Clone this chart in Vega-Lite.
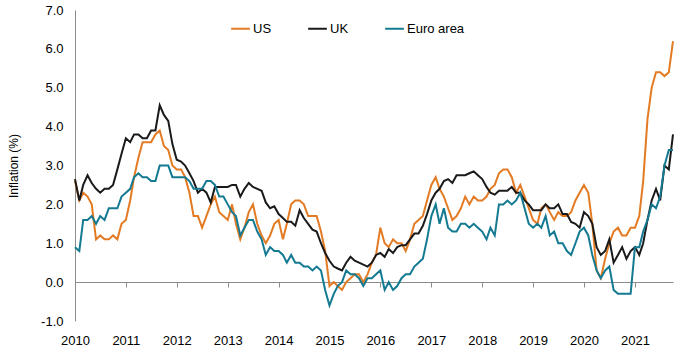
{
"$schema": "https://vega.github.io/schema/vega-lite/v6.json",
"width": 598, "height": 311,
"autosize": {"type": "none"},
"padding": {"left": 75, "top": 10, "right": 7, "bottom": 27},
"background": "white",
"config": {"font": "Liberation Sans", "view": {"stroke": null}},
"datasets": {"cpi": [
{"date":"2010/01/01","US":2.6,"UK":2.65,"Euro area":0.9},
{"date":"2010/02/01","US":2.1,"UK":2.1,"Euro area":0.8},
{"date":"2010/03/01","US":2.3,"UK":2.5,"Euro area":1.6},
{"date":"2010/04/01","US":2.2,"UK":2.75,"Euro area":1.6},
{"date":"2010/05/01","US":2.0,"UK":2.55,"Euro area":1.7},
{"date":"2010/06/01","US":1.1,"UK":2.4,"Euro area":1.5},
{"date":"2010/07/01","US":1.2,"UK":2.3,"Euro area":1.7},
{"date":"2010/08/01","US":1.1,"UK":2.4,"Euro area":1.6},
{"date":"2010/09/01","US":1.1,"UK":2.4,"Euro area":1.9},
{"date":"2010/10/01","US":1.2,"UK":2.5,"Euro area":1.9},
{"date":"2010/11/01","US":1.1,"UK":2.9,"Euro area":1.9},
{"date":"2010/12/01","US":1.5,"UK":3.3,"Euro area":2.2},
{"date":"2011/01/01","US":1.6,"UK":3.7,"Euro area":2.3},
{"date":"2011/02/01","US":2.1,"UK":3.6,"Euro area":2.4},
{"date":"2011/03/01","US":2.7,"UK":3.8,"Euro area":2.7},
{"date":"2011/04/01","US":3.2,"UK":3.8,"Euro area":2.8},
{"date":"2011/05/01","US":3.6,"UK":3.7,"Euro area":2.7},
{"date":"2011/06/01","US":3.6,"UK":3.7,"Euro area":2.7},
{"date":"2011/07/01","US":3.6,"UK":3.9,"Euro area":2.6},
{"date":"2011/08/01","US":3.8,"UK":3.9,"Euro area":2.6},
{"date":"2011/09/01","US":3.9,"UK":4.55,"Euro area":3.0},
{"date":"2011/10/01","US":3.5,"UK":4.3,"Euro area":3.0},
{"date":"2011/11/01","US":3.4,"UK":4.15,"Euro area":3.0},
{"date":"2011/12/01","US":3.0,"UK":3.55,"Euro area":2.7},
{"date":"2012/01/01","US":2.9,"UK":3.15,"Euro area":2.7},
{"date":"2012/02/01","US":2.9,"UK":3.1,"Euro area":2.7},
{"date":"2012/03/01","US":2.7,"UK":3.0,"Euro area":2.7},
{"date":"2012/04/01","US":2.3,"UK":2.8,"Euro area":2.6},
{"date":"2012/05/01","US":1.7,"UK":2.6,"Euro area":2.4},
{"date":"2012/06/01","US":1.7,"UK":2.3,"Euro area":2.4},
{"date":"2012/07/01","US":1.4,"UK":2.4,"Euro area":2.4},
{"date":"2012/08/01","US":1.7,"UK":2.3,"Euro area":2.6},
{"date":"2012/09/01","US":2.0,"UK":2.05,"Euro area":2.6},
{"date":"2012/10/01","US":2.2,"UK":2.45,"Euro area":2.5},
{"date":"2012/11/01","US":1.8,"UK":2.45,"Euro area":2.2},
{"date":"2012/12/01","US":1.7,"UK":2.45,"Euro area":2.2},
{"date":"2013/01/01","US":1.6,"UK":2.45,"Euro area":2.0},
{"date":"2013/02/01","US":2.0,"UK":2.5,"Euro area":1.8},
{"date":"2013/03/01","US":1.5,"UK":2.5,"Euro area":1.7},
{"date":"2013/04/01","US":1.1,"UK":2.2,"Euro area":1.2},
{"date":"2013/05/01","US":1.4,"UK":2.4,"Euro area":1.4},
{"date":"2013/06/01","US":1.8,"UK":2.55,"Euro area":1.6},
{"date":"2013/07/01","US":2.0,"UK":2.45,"Euro area":1.6},
{"date":"2013/08/01","US":1.5,"UK":2.4,"Euro area":1.3},
{"date":"2013/09/01","US":1.2,"UK":2.35,"Euro area":1.1},
{"date":"2013/10/01","US":1.0,"UK":2.05,"Euro area":0.7},
{"date":"2013/11/01","US":1.2,"UK":1.9,"Euro area":0.9},
{"date":"2013/12/01","US":1.5,"UK":1.95,"Euro area":0.8},
{"date":"2014/01/01","US":1.6,"UK":1.75,"Euro area":0.8},
{"date":"2014/02/01","US":1.1,"UK":1.65,"Euro area":0.7},
{"date":"2014/03/01","US":1.5,"UK":1.55,"Euro area":0.5},
{"date":"2014/04/01","US":2.0,"UK":1.55,"Euro area":0.7},
{"date":"2014/05/01","US":2.1,"UK":1.45,"Euro area":0.5},
{"date":"2014/06/01","US":2.1,"UK":1.85,"Euro area":0.5},
{"date":"2014/07/01","US":2.0,"UK":1.65,"Euro area":0.4},
{"date":"2014/08/01","US":1.7,"UK":1.5,"Euro area":0.4},
{"date":"2014/09/01","US":1.7,"UK":1.35,"Euro area":0.3},
{"date":"2014/10/01","US":1.7,"UK":1.3,"Euro area":0.4},
{"date":"2014/11/01","US":1.3,"UK":1.0,"Euro area":0.3},
{"date":"2014/12/01","US":0.8,"UK":0.75,"Euro area":-0.2},
{"date":"2015/01/01","US":-0.1,"UK":0.55,"Euro area":-0.6},
{"date":"2015/02/01","US":0.0,"UK":0.4,"Euro area":-0.3},
{"date":"2015/03/01","US":-0.1,"UK":0.35,"Euro area":-0.1},
{"date":"2015/04/01","US":-0.2,"UK":0.3,"Euro area":0.0},
{"date":"2015/05/01","US":0.0,"UK":0.5,"Euro area":0.3},
{"date":"2015/06/01","US":0.1,"UK":0.65,"Euro area":0.2},
{"date":"2015/07/01","US":0.2,"UK":0.55,"Euro area":0.2},
{"date":"2015/08/01","US":0.2,"UK":0.5,"Euro area":0.1},
{"date":"2015/09/01","US":0.0,"UK":0.45,"Euro area":-0.1},
{"date":"2015/10/01","US":0.2,"UK":0.4,"Euro area":0.1},
{"date":"2015/11/01","US":0.5,"UK":0.5,"Euro area":0.1},
{"date":"2015/12/01","US":0.7,"UK":0.7,"Euro area":0.2},
{"date":"2016/01/01","US":1.4,"UK":0.75,"Euro area":0.3},
{"date":"2016/02/01","US":1.0,"UK":0.65,"Euro area":-0.2},
{"date":"2016/03/01","US":0.9,"UK":0.85,"Euro area":0.0},
{"date":"2016/04/01","US":1.1,"UK":0.75,"Euro area":-0.2},
{"date":"2016/05/01","US":1.0,"UK":0.9,"Euro area":-0.1},
{"date":"2016/06/01","US":1.0,"UK":0.95,"Euro area":0.1},
{"date":"2016/07/01","US":0.8,"UK":0.95,"Euro area":0.2},
{"date":"2016/08/01","US":1.1,"UK":1.1,"Euro area":0.2},
{"date":"2016/09/01","US":1.5,"UK":1.25,"Euro area":0.4},
{"date":"2016/10/01","US":1.6,"UK":1.25,"Euro area":0.5},
{"date":"2016/11/01","US":1.7,"UK":1.45,"Euro area":0.6},
{"date":"2016/12/01","US":2.1,"UK":1.75,"Euro area":1.1},
{"date":"2017/01/01","US":2.5,"UK":2.1,"Euro area":1.7},
{"date":"2017/02/01","US":2.7,"UK":2.3,"Euro area":2.0},
{"date":"2017/03/01","US":2.4,"UK":2.4,"Euro area":1.5},
{"date":"2017/04/01","US":2.2,"UK":2.6,"Euro area":1.9},
{"date":"2017/05/01","US":1.9,"UK":2.65,"Euro area":1.4},
{"date":"2017/06/01","US":1.6,"UK":2.55,"Euro area":1.3},
{"date":"2017/07/01","US":1.7,"UK":2.75,"Euro area":1.3},
{"date":"2017/08/01","US":1.9,"UK":2.75,"Euro area":1.5},
{"date":"2017/09/01","US":2.2,"UK":2.75,"Euro area":1.5},
{"date":"2017/10/01","US":2.0,"UK":2.8,"Euro area":1.4},
{"date":"2017/11/01","US":2.2,"UK":2.85,"Euro area":1.5},
{"date":"2017/12/01","US":2.1,"UK":2.75,"Euro area":1.4},
{"date":"2018/01/01","US":2.1,"UK":2.65,"Euro area":1.3},
{"date":"2018/02/01","US":2.2,"UK":2.45,"Euro area":1.1},
{"date":"2018/03/01","US":2.4,"UK":2.3,"Euro area":1.4},
{"date":"2018/04/01","US":2.5,"UK":2.25,"Euro area":1.2},
{"date":"2018/05/01","US":2.8,"UK":2.35,"Euro area":2.0},
{"date":"2018/06/01","US":2.9,"UK":2.35,"Euro area":2.0},
{"date":"2018/07/01","US":2.9,"UK":2.35,"Euro area":2.1},
{"date":"2018/08/01","US":2.7,"UK":2.45,"Euro area":2.0},
{"date":"2018/09/01","US":2.3,"UK":2.3,"Euro area":2.1},
{"date":"2018/10/01","US":2.5,"UK":2.3,"Euro area":2.3},
{"date":"2018/11/01","US":2.2,"UK":2.1,"Euro area":1.9},
{"date":"2018/12/01","US":1.9,"UK":2.0,"Euro area":1.5},
{"date":"2019/01/01","US":1.6,"UK":1.85,"Euro area":1.4},
{"date":"2019/02/01","US":1.5,"UK":1.85,"Euro area":1.5},
{"date":"2019/03/01","US":1.9,"UK":1.85,"Euro area":1.4},
{"date":"2019/04/01","US":2.0,"UK":2.0,"Euro area":1.7},
{"date":"2019/05/01","US":1.8,"UK":1.9,"Euro area":1.2},
{"date":"2019/06/01","US":1.6,"UK":1.9,"Euro area":1.3},
{"date":"2019/07/01","US":1.8,"UK":2.0,"Euro area":1.0},
{"date":"2019/08/01","US":1.7,"UK":1.75,"Euro area":1.0},
{"date":"2019/09/01","US":1.7,"UK":1.75,"Euro area":0.8},
{"date":"2019/10/01","US":1.8,"UK":1.55,"Euro area":0.7},
{"date":"2019/11/01","US":2.1,"UK":1.5,"Euro area":1.0},
{"date":"2019/12/01","US":2.3,"UK":1.4,"Euro area":1.3},
{"date":"2020/01/01","US":2.5,"UK":1.8,"Euro area":1.4},
{"date":"2020/02/01","US":2.3,"UK":1.7,"Euro area":1.2},
{"date":"2020/03/01","US":1.5,"UK":1.5,"Euro area":0.7},
{"date":"2020/04/01","US":0.3,"UK":0.9,"Euro area":0.3},
{"date":"2020/05/01","US":0.1,"UK":0.7,"Euro area":0.1},
{"date":"2020/06/01","US":0.6,"UK":0.8,"Euro area":0.3},
{"date":"2020/07/01","US":1.0,"UK":1.1,"Euro area":0.4},
{"date":"2020/08/01","US":1.3,"UK":0.5,"Euro area":-0.2},
{"date":"2020/09/01","US":1.4,"UK":0.7,"Euro area":-0.3},
{"date":"2020/10/01","US":1.2,"UK":0.9,"Euro area":-0.3},
{"date":"2020/11/01","US":1.2,"UK":0.6,"Euro area":-0.3},
{"date":"2020/12/01","US":1.4,"UK":0.8,"Euro area":-0.3},
{"date":"2021/01/01","US":1.4,"UK":0.9,"Euro area":0.9},
{"date":"2021/02/01","US":1.7,"UK":0.7,"Euro area":0.9},
{"date":"2021/03/01","US":2.6,"UK":1.0,"Euro area":1.3},
{"date":"2021/04/01","US":4.2,"UK":1.6,"Euro area":1.6},
{"date":"2021/05/01","US":5.0,"UK":2.1,"Euro area":2.0},
{"date":"2021/06/01","US":5.4,"UK":2.4,"Euro area":1.9},
{"date":"2021/07/01","US":5.4,"UK":2.1,"Euro area":2.2},
{"date":"2021/08/01","US":5.3,"UK":3.0,"Euro area":3.0},
{"date":"2021/09/01","US":5.4,"UK":2.9,"Euro area":3.4},
{"date":"2021/10/01","US":6.2,"UK":3.8,"Euro area":3.4}
]},
"data": {"name": "cpi"},
"transform": [{"fold": ["US", "UK", "Euro area"], "as": ["series", "value"]}],
"mark": {"type": "line", "strokeWidth": 2},
"encoding": {
  "x": {"field": "date", "type": "temporal",
    "scale": {"domain": [{"year": 2010, "month": 1, "date": 1}, {"year": 2021, "month": 10, "date": 1}]},
    "axis": {"title": null, "format": "%Y", "tickCount": {"interval": "year", "step": 1}, "offset": -39,
      "domainColor": "#8c8c8c", "tickColor": "#8c8c8c", "tickSize": 5, "labelPadding": 47,
      "labelFontSize": 13, "labelColor": "#000000", "grid": false, "labelFlush": false}},
  "y": {"field": "value", "type": "quantitative",
    "scale": {"domain": [-1, 7], "nice": false, "zero": false},
    "axis": {"title": "Inflation (%)", "values": [-1, 0, 1, 2, 3, 4, 5, 6, 7],
      "labelExpr": "datum.value < 0 ? '-' + format(-datum.value, '.1f') : format(datum.value, '.1f')", "grid": false,
      "ticks": false, "labelPadding": 12, "domainColor": "#8c8c8c", "labelFontSize": 13, "labelColor": "#000000",
      "titleFontWeight": "normal", "titleFontSize": 12, "titleColor": "#000000", "titlePadding": 20}},
  "color": {"field": "series", "type": "nominal",
    "scale": {"domain": ["US", "UK", "Euro area"], "range": ["#E37B24", "#1a1a1a", "#137A91"]},
    "legend": {"title": null, "orient": "none", "direction": "horizontal", "legendX": 155, "legendY": 8,
      "symbolType": "stroke", "symbolSize": 350, "symbolStrokeWidth": 2, "labelFontSize": 13,
      "labelColor": "#000000", "columnPadding": 32, "labelOffset": 2}}
}
}
